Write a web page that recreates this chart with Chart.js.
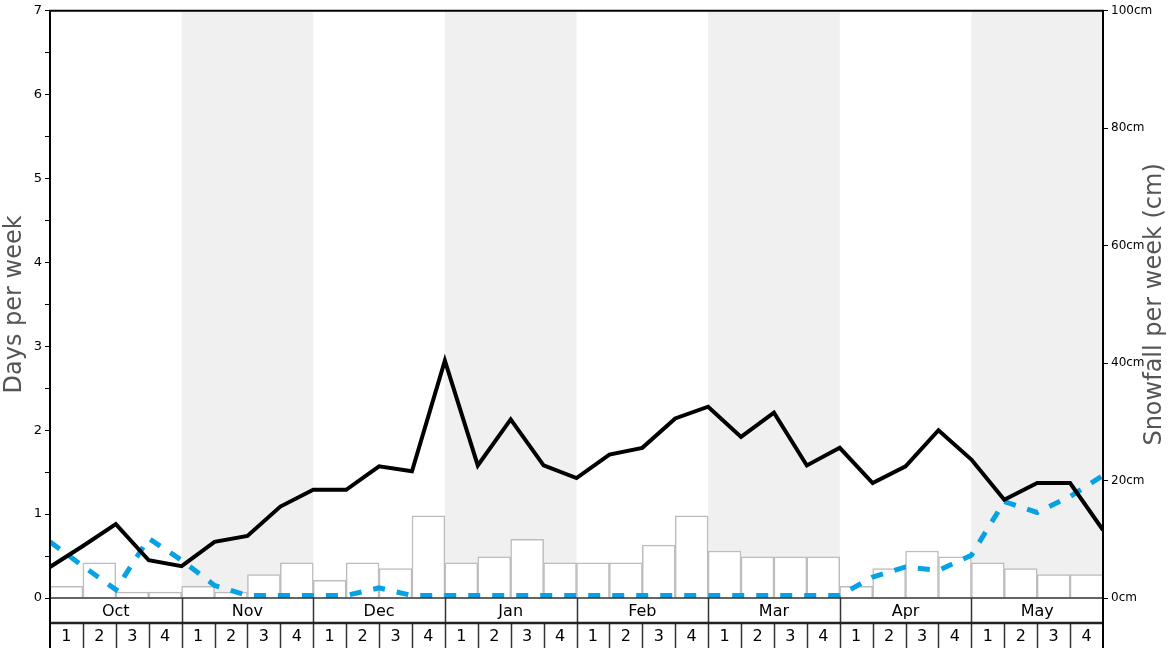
<!DOCTYPE html>
<html>
<head>
<meta charset="utf-8">
<script src="https://cdn.jsdelivr.net/npm/chart.js@4.4.0/dist/chart.umd.min.js"></script>
<style>
  html, body { margin: 0; padding: 0; background: #fff; }
  #wrap { width: 1168px; height: 648px; }
</style>
</head>
<body>
<div id="wrap"><canvas id="chart"></canvas></div>
<script>
const months = ['Oct', 'Nov', 'Dec', 'Jan', 'Feb', 'Mar', 'Apr', 'May'];
const weekLabels = ['1', '2', '3', '4'];
// snowfall per week in cm, one per week (32)
const snowfallCm = [2, 6, 1, 1, 2, 1, 4, 6, 3, 6, 5, 14, 6, 7, 10, 6, 6, 6, 9, 14, 8, 7, 7, 7, 2, 5, 8, 7, 6, 5, 4, 4];
// days per week, at week boundaries (33)
const snowDays = [0.37, 0.62, 0.88, 0.45, 0.38, 0.67, 0.74, 1.09, 1.29, 1.29, 1.57, 1.51, 2.83, 1.58, 2.13, 1.58, 1.43,
  1.71, 1.79, 2.14, 2.28, 1.92, 2.21, 1.58, 1.79, 1.37, 1.57, 2.0, 1.65, 1.17, 1.37, 1.37, 0.81];
const dashedDays = [0.67, 0.38, 0.1, 0.71, 0.45, 0.15, 0.03, 0.03, 0.03, 0.03, 0.12, 0.03, 0.03, 0.03, 0.03, 0.03, 0.03,
  0.03, 0.03, 0.03, 0.03, 0.03, 0.03, 0.03, 0.03, 0.25, 0.37, 0.33, 0.51, 1.15, 1.02, 1.21, 1.46];
const daysTicks = [0, 1, 2, 3, 4, 5, 6, 7];
const cmTicks = [0, 20, 40, 60, 80, 100];

const font = 'DejaVu Sans';

const bands = {
  id: 'bands',
  beforeDatasetsDraw(chart) {
    const { ctx, chartArea: a, scales: { x } } = chart;
    ctx.save();
    ctx.fillStyle = '#f0f0f0';
    months.forEach((m, i) => {
      if (i % 2 == 1) {
        const x0 = x.getPixelForValue(i * 4), x1 = x.getPixelForValue(i * 4 + 4);
        ctx.fillRect(x0, a.top, x1 - x0, a.bottom - a.top);
      }
    });
    ctx.restore();
  }
};

const table = {
  id: 'table',
  afterDraw(chart) {
    const { ctx, chartArea: a, scales: { x } } = chart;
    const H = chart.height;
    const mid = a.bottom + 25;
    ctx.save();
    ctx.fillStyle = '#000';
    ctx.font = '16px "' + font + '"';
    ctx.textAlign = 'center';
    ctx.textBaseline = 'middle';
    months.forEach((m, i) => {
      ctx.fillText(m, x.getPixelForValue(i * 4 + 2), (a.bottom + mid) / 2 + 1);
      weekLabels.forEach((w, j) => {
        ctx.fillText(w, x.getPixelForValue(i * 4 + j + 0.5), (mid + H) / 2 + 1);
      });
    });
    ctx.strokeStyle = '#333';
    ctx.lineWidth = 1.5;
    ctx.beginPath();
    ctx.moveTo(a.left, a.bottom); ctx.lineTo(a.right, a.bottom);
    for (let i = 1; i < 32; i++) {
      const px = Math.round(x.getPixelForValue(i)) + 0.5;
      ctx.moveTo(px, i % 4 == 0 ? a.bottom : mid);
      ctx.lineTo(px, H);
    }
    ctx.stroke();
    ctx.strokeStyle = '#222';
    ctx.lineWidth = 2.5;
    ctx.beginPath();
    ctx.moveTo(a.left, mid); ctx.lineTo(a.right, mid);
    ctx.stroke();
    // frame
    ctx.strokeStyle = '#000';
    ctx.lineWidth = 2;
    ctx.beginPath();
    ctx.moveTo(a.left, H); ctx.lineTo(a.left, a.top); ctx.lineTo(a.right, a.top); ctx.lineTo(a.right, H);
    ctx.stroke();
    // right axis title, reads bottom to top
    ctx.translate(1155, (a.top + a.bottom) / 2);
    ctx.rotate(-Math.PI / 2);
    ctx.fillStyle = '#555';
    ctx.font = '24px "' + font + '"';
    ctx.fillText('Snowfall per week (cm)', 0, 0);
    ctx.restore();
  }
};

new Chart(document.getElementById('chart'), {
  data: {
    datasets: [{
      type: 'line',
      label: 'Days per week',
      data: snowDays.map((v, i) => ({ x: i, y: v })),
      yAxisID: 'y',
      borderColor: '#000',
      borderWidth: 4,
      pointRadius: 0,
      tension: 0,
      order: 0
    }, {
      type: 'line',
      label: 'Days per week (dashed)',
      data: dashedDays.map((v, i) => ({ x: i, y: v })),
      yAxisID: 'y',
      borderColor: '#07a2e6',
      borderWidth: 5,
      borderDash: [12, 12],
      pointRadius: 0,
      tension: 0,
      order: 1
    }, {
      type: 'bar',
      label: 'Snowfall per week',
      data: snowfallCm.map((v, i) => ({ x: i + 0.5, y: v })),
      yAxisID: 'y1',
      backgroundColor: '#fff',
      borderColor: '#bdbdbd',
      borderWidth: 1.5,
      barPercentage: 1,
      categoryPercentage: 1,
      order: 2
    }]
  },
  options: {
    responsive: true,
    maintainAspectRatio: false,
    animation: false,
    layout: { padding: { top: 10, bottom: 50 } },
    plugins: { legend: { display: false }, tooltip: { enabled: false } },
    scales: {
      x: { type: 'linear', min: 0, max: 32, offset: false, display: false },
      y: {
        position: 'left',
        min: 0, max: 7,
        afterBuildTicks: s => { s.ticks = []; for (let v = 0; v <= 7; v += 0.5) s.ticks.push({ value: v }); },
        afterFit: s => { s.width = 50; },
        ticks: {
          callback: v => daysTicks.includes(v) ? String(v) : '',
          color: '#000', font: { family: font, size: 13 }, padding: 3, autoSkip: false
        },
        grid: { drawOnChartArea: false, tickLength: 5, color: '#000', tickWidth: 1 },
        border: { color: '#000', width: 2 },
        title: { display: true, text: 'Days per week', color: '#555', font: { family: font, size: 24 }, padding: 0 }
      },
      y1: {
        position: 'right',
        min: 0, max: 100,
        afterBuildTicks: s => { s.ticks = cmTicks.map(v => ({ value: v })); },
        afterFit: s => { s.width = 65; },
        ticks: {
          callback: v => v + 'cm',
          color: '#000', font: { family: font, size: 12 }, padding: 3
        },
        grid: { drawOnChartArea: false, tickLength: 5, color: '#000', tickWidth: 1 },
        border: { color: '#000', width: 2 }
      }
    }
  },
  plugins: [bands, table]
});
</script>
</body>
</html>
